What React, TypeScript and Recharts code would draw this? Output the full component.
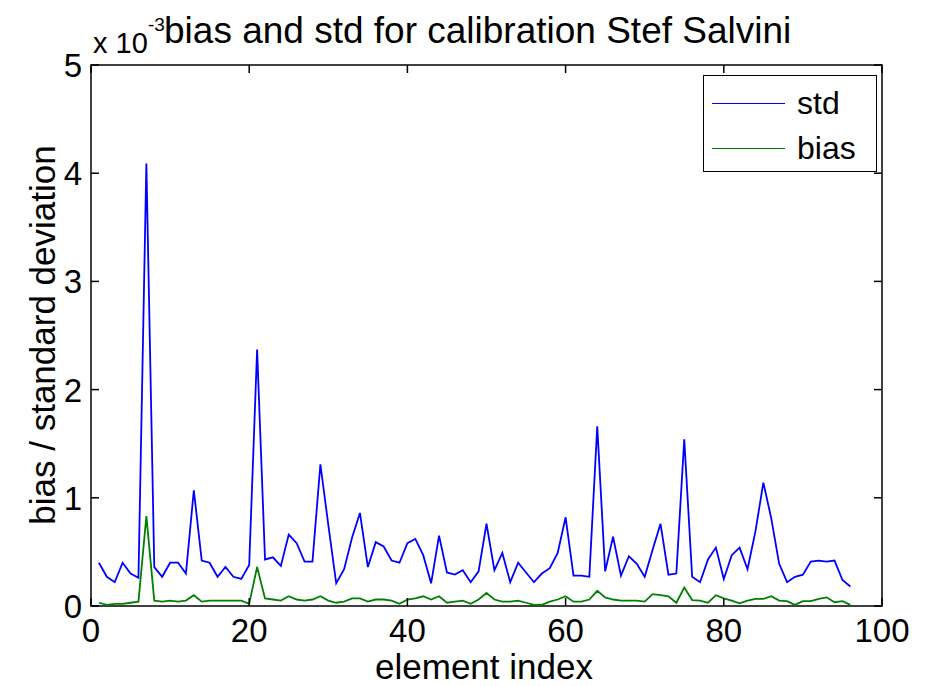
import { LineChart, Line, XAxis, YAxis, Legend, ReferenceArea } from 'recharts';

// values in units of 1e-3 (axis reads "x 10^-3")
const elementIndex = Array.from({ length: 96 }, (_, i) => i + 1);

const stdValues = [
  0.40, 0.27, 0.22, 0.40, 0.30, 0.26, 4.09, 0.36, 0.27, 0.40,
  0.40, 0.30, 1.07, 0.42, 0.40, 0.27, 0.36, 0.27, 0.25, 0.38,
  2.37, 0.43, 0.45, 0.37, 0.66, 0.58, 0.41, 0.41, 1.31, 0.75,
  0.21, 0.34, 0.63, 0.86, 0.36, 0.59, 0.55, 0.42, 0.40, 0.58,
  0.62, 0.47, 0.21, 0.65, 0.31, 0.29, 0.33, 0.22, 0.32, 0.76,
  0.33, 0.49, 0.22, 0.40, 0.31, 0.22, 0.30, 0.35, 0.49, 0.82,
  0.28, 0.28, 0.27, 1.66, 0.32, 0.64, 0.28, 0.46, 0.39, 0.27,
  0.52, 0.76, 0.29, 0.30, 1.54, 0.27, 0.22, 0.43, 0.54, 0.25,
  0.47, 0.54, 0.34, 0.69, 1.14, 0.81, 0.39, 0.22, 0.27, 0.29,
  0.41, 0.42, 0.41, 0.42, 0.24, 0.18,
];

const biasValues = [
  0.03, 0.01, 0.02, 0.02, 0.03, 0.04, 0.83, 0.05, 0.04, 0.05,
  0.04, 0.05, 0.10, 0.04, 0.05, 0.05, 0.05, 0.05, 0.05, 0.02,
  0.36, 0.07, 0.06, 0.05, 0.09, 0.06, 0.05, 0.06, 0.09, 0.05,
  0.03, 0.04, 0.07, 0.07, 0.04, 0.06, 0.06, 0.05, 0.02, 0.06,
  0.07, 0.09, 0.06, 0.09, 0.03, 0.04, 0.05, 0.02, 0.06, 0.12,
  0.06, 0.04, 0.04, 0.05, 0.03, 0.01, 0.01, 0.04, 0.06, 0.09,
  0.04, 0.04, 0.06, 0.14, 0.08, 0.06, 0.05, 0.05, 0.05, 0.04,
  0.11, 0.10, 0.09, 0.03, 0.17, 0.055, 0.05, 0.03, 0.10, 0.07,
  0.05, 0.025, 0.05, 0.065, 0.065, 0.09, 0.05, 0.045, 0.01, 0.045,
  0.045, 0.065, 0.08, 0.035, 0.045, 0.01,
];

const SERIES_ORDER = ['std', 'bias'];
const X_TICKS = [0, 20, 40, 60, 80, 100];
const Y_TICKS = [0, 1, 2, 3, 4, 5];

const data = elementIndex.map((idx, i) => ({ idx, std: stdValues[i], bias: biasValues[i] }));

const W = 926;
const H = 686;
const PLOT_LEFT = 91;
const PLOT_RIGHT = 882;
const PLOT_TOP = 65;
const PLOT_BOTTOM = 606;
const YAXIS_W = 80;
const XAXIS_H = 50;
const TICK_LEN = 8;
const FONT = '"Liberation Sans", Arial, Helvetica, sans-serif';

function XTick({ x, payload }: any) {
  return (
    <g>
      <line x1={x} x2={x} y1={PLOT_BOTTOM} y2={PLOT_BOTTOM - TICK_LEN} stroke="#000" strokeWidth={1.5} />
      <line x1={x} x2={x} y1={PLOT_TOP} y2={PLOT_TOP + TICK_LEN} stroke="#000" strokeWidth={1.5} />
      <text x={x} y={642} textAnchor="middle" fontSize={33} fontFamily={FONT} fill="#000">
        {payload.value}
      </text>
    </g>
  );
}

function YTick({ y, payload }: any) {
  return (
    <g>
      <line x1={PLOT_LEFT} x2={PLOT_LEFT + TICK_LEN} y1={y} y2={y} stroke="#000" strokeWidth={1.5} />
      <line x1={PLOT_RIGHT - TICK_LEN} x2={PLOT_RIGHT} y1={y} y2={y} stroke="#000" strokeWidth={1.5} />
      <text x={82} y={y + 12} textAnchor="end" fontSize={33} fontFamily={FONT} fill="#000">
        {payload.value}
      </text>
    </g>
  );
}

function MatlabLegend({ payload }: any) {
  if (!payload) return null;
  const items = [...payload].sort(
    (a: any, b: any) => SERIES_ORDER.indexOf(a.value) - SERIES_ORDER.indexOf(b.value),
  );
  return (
    <div
      style={{
        width: 174, height: 97, boxSizing: 'border-box', border: '1.5px solid #000',
        background: '#fff', position: 'relative', fontFamily: FONT,
      }}
    >
      {items.map((p: any, i: number) => (
        <div
          key={p.value}
          style={{ position: 'absolute', left: 8, top: 7 + i * 45, height: 40, display: 'flex', alignItems: 'center' }}
        >
          <span style={{ width: 73, height: 0, borderTop: `1.5px solid ${p.color}` }} />
          <span style={{ marginLeft: 12, fontSize: 32, color: '#000', lineHeight: '40px' }}>{p.value}</span>
        </div>
      ))}
    </div>
  );
}

export default function App() {
  return (
    <div style={{ position: 'absolute', left: 0, top: 0, width: W, height: H, background: '#fff' }}>
      <LineChart
        width={W}
        height={H}
        data={data}
        margin={{ top: PLOT_TOP, right: W - PLOT_RIGHT, left: PLOT_LEFT - YAXIS_W, bottom: H - PLOT_BOTTOM - XAXIS_H }}
      >
        <XAxis
          dataKey="idx"
          type="number"
          domain={[0, 100]}
          ticks={X_TICKS}
          tick={<XTick />}
          tickLine={false}
          axisLine={false}
          height={XAXIS_H}
          interval={0}
        />
        <YAxis
          type="number"
          domain={[0, 5]}
          ticks={Y_TICKS}
          tick={<YTick />}
          tickLine={false}
          axisLine={false}
          width={YAXIS_W}
          interval={0}
        />
        <ReferenceArea x1={0} x2={100} y1={0} y2={5} fill="none" stroke="#000" strokeWidth={1.5} ifOverflow="visible" />
        <Line dataKey="std" name="std" stroke="#0000ff" strokeWidth={1.8} dot={false} isAnimationActive={false} />
        <Line dataKey="bias" name="bias" stroke="#008000" strokeWidth={1.8} dot={false} isAnimationActive={false} />
        <Legend
          content={<MatlabLegend />}
          layout="horizontal"
          verticalAlign="middle"
          align="center"
          wrapperStyle={{ left: 703, top: 75, width: 174, height: 97 }}
        />
      </LineChart>

      {/* title, axis labels */}
      <svg
        width={W}
        height={H}
        style={{ position: 'absolute', left: 0, top: 0, pointerEvents: 'none' }}
        fontFamily={FONT}
        fill="#000"
      >
        <text x={93} y={53} fontSize={29}>x 10</text>
        <text x={148} y={31} fontSize={19}>-3</text>
        <text x={164} y={43} fontSize={37}>bias and std for calibration Stef Salvini</text>
        <text x={484} y={679} fontSize={35} textAnchor="middle">element index</text>
        <text x={55} y={335} fontSize={35} textAnchor="middle" transform="rotate(-90 55 335)">
          bias / standard deviation
        </text>
      </svg>
    </div>
  );
}
